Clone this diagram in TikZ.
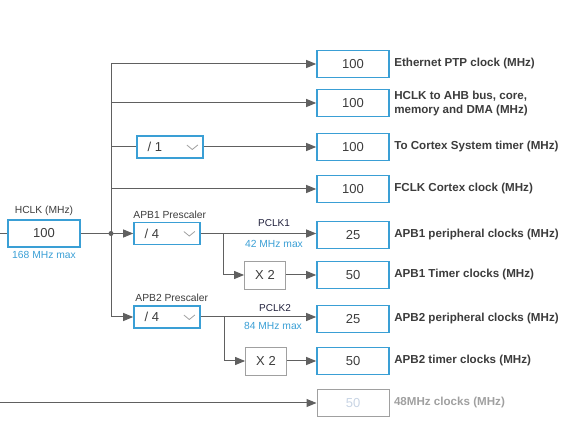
\documentclass[tikz,border=0pt]{standalone}
\usepackage{fontspec}
\setmainfont{Liberation Sans}
\usetikzlibrary{arrows.meta}
\definecolor{clkblue}{HTML}{3A9FD5}
\definecolor{wiregray}{HTML}{606060}
\definecolor{labelgray}{HTML}{3C3C3C}
\definecolor{offgray}{HTML}{A0A0A0}
\definecolor{offtext}{HTML}{C8D4E4}
\definecolor{pclknavy}{HTML}{20203C}
% small chevron of a drop-down box
\newcommand\dropmark[1]{\draw[offgray,line width=0.8pt] ([shift={(-17,-2)}]#1.east) -- ++(5.5,4.5) -- ++(5.5,-4.5);}
\begin{document}
\begin{tikzpicture}[x=1pt,y=-1pt,
  wire/.style={draw=wiregray,line width=1pt},
  feed/.style={wire,-{Triangle[length=10pt,width=8pt]}},
  clkbox/.style={draw=clkblue,line width=1.6pt,minimum width=72pt,minimum height=27pt,text=labelgray,font=\fontsize{13}{15}\selectfont},
  dropbox/.style={draw=clkblue,line width=1.6pt,minimum width=66pt,minimum height=22pt},
  droptext/.style={anchor=west,text=labelgray,font=\fontsize{13}{15}\selectfont},
  mulbox/.style={draw=offgray,line width=0.8pt,minimum width=41pt,minimum height=28pt,text=labelgray,font=\fontsize{13}{15}\selectfont},
  outlabel/.style={anchor=west,text=labelgray,font=\bfseries\fontsize{11.6}{14}\selectfont,align=left},
  smalllabel/.style={text=labelgray,font=\fontsize{10.3}{12}\selectfont},
  maxlabel/.style={text=clkblue,font=\fontsize{10.3}{12}\selectfont}]
  \useasboundingbox (0,0) rectangle (579,446);
  % HCLK source
  \coordinate (hin) at (0,233.5);
  \coordinate (split) at (111,233.5);
  \node[clkbox] (hclk) at (44,233.5) {100};
  \node[smalllabel,anchor=south] (hclkname) at (hclk.north) {HCLK (MHz)};
  \node[maxlabel,anchor=north] (hclkmax) at (hclk.south) {168 MHz max};
  % Outputs
  \node[clkbox] (eth) at (353,64) {100};
  \node[clkbox] (ahb) at (353,103) {100};
  \node[clkbox] (systick) at (353,147) {100};
  \node[clkbox] (fclk) at (353,189) {100};
  \node[clkbox] (apb1p) at (353,235) {25};
  \node[clkbox] (apb1t) at (353,275) {50};
  \node[clkbox] (apb2p) at (353,319) {25};
  \node[clkbox] (apb2t) at (353,361) {50};
  \node[clkbox,draw=offgray,line width=1pt,text=offtext] (usb) at (353,403) {50};
  \node[outlabel] (ethname) at ([xshift=1pt]eth.east) {Ethernet PTP clock (MHz)};
  \node[outlabel] (ahbname) at ([xshift=1pt,yshift=-1pt]ahb.east) {HCLK to AHB bus, core,\\memory and DMA (MHz)};
  \node[outlabel] (systickname) at ([xshift=1pt]systick.east) {To Cortex System timer (MHz)};
  \node[outlabel] (fclkname) at ([xshift=1pt]fclk.east) {FCLK Cortex clock (MHz)};
  \node[outlabel] (apb1pname) at ([xshift=1pt]apb1p.east) {APB1 peripheral clocks (MHz)};
  \node[outlabel] (apb1tname) at ([xshift=1pt]apb1t.east) {APB1 Timer clocks (MHz)};
  \node[outlabel] (apb2pname) at ([xshift=1pt]apb2p.east) {APB2 peripheral clocks (MHz)};
  \node[outlabel] (apb2tname) at ([xshift=1pt]apb2t.east) {APB2 timer clocks (MHz)};
  \node[outlabel,text=offgray] (usbname) at ([xshift=1pt]usb.east) {48MHz clocks (MHz)};
  % Prescalers
  \node[dropbox] (sysdiv) at (170,147) {};
  \node[droptext] at ([xshift=8pt]sysdiv.west) {/ 1};
  \dropmark{sysdiv}
  \node[dropbox] (apb1div) at (167,233.5) {};
  \node[droptext] at ([xshift=8pt]apb1div.west) {/ 4};
  \dropmark{apb1div}
  \node[smalllabel,anchor=south west,inner xsep=0pt] (apb1name) at (apb1div.north west) {APB1 Prescaler};
  \node[dropbox] (apb2div) at (167,317) {};
  \node[droptext] at ([xshift=8pt]apb2div.west) {/ 4};
  \dropmark{apb2div}
  \node[smalllabel,anchor=south west,inner xsep=0pt] (apb2name) at ([xshift=2pt]apb2div.north west) {APB2 Prescaler};
  \node[mulbox] (mul1) at (265,275) {X 2};
  \node[mulbox] (mul2) at (266,361) {X 2};
  \coordinate (tap1) at (223,233.5);
  \coordinate (tap2) at (224,317);
  \node[text=pclknavy,font=\fontsize{10}{12}\selectfont] (pclk1) at (274,223) {PCLK1};
  \node[maxlabel] (pclk1max) at (274,243.5) {42 MHz max};
  \node[text=pclknavy,font=\fontsize{10}{12}\selectfont] (pclk2) at (275,308) {PCLK2};
  \node[maxlabel] (pclk2max) at (273,326) {84 MHz max};
  % Wires
  \draw[wire] (hin) -- (hclk.west);
  \draw[wire] (hclk.east) -- (split);
  \draw[feed] (split) |- (eth.west);
  \draw[feed] (split) |- (ahb.west);
  \draw[wire] (split) |- (sysdiv.west);
  \draw[feed] (sysdiv.east) -- (systick.west);
  \draw[feed] (split) |- (fclk.west);
  \draw[feed] (split) -- (apb1div.west);
  \draw[feed] (split) |- (apb2div.west);
  \draw[feed] (apb1div.east) -- (apb1div.east -| apb1p.west);
  \draw[feed] (tap1) |- (mul1.west);
  \draw[feed] (mul1.east) -- (apb1t.west);
  \draw[feed] (apb2div.east) -- (apb2div.east -| apb2p.west);
  \draw[feed] (tap2) |- (mul2.west);
  \draw[feed] (mul2.east) -- (apb2t.west);
  \draw[feed] (hin |- usb.west) -- (usb.west);
  \fill[wiregray] (split) circle (2.5);
\end{tikzpicture}
\end{document}
